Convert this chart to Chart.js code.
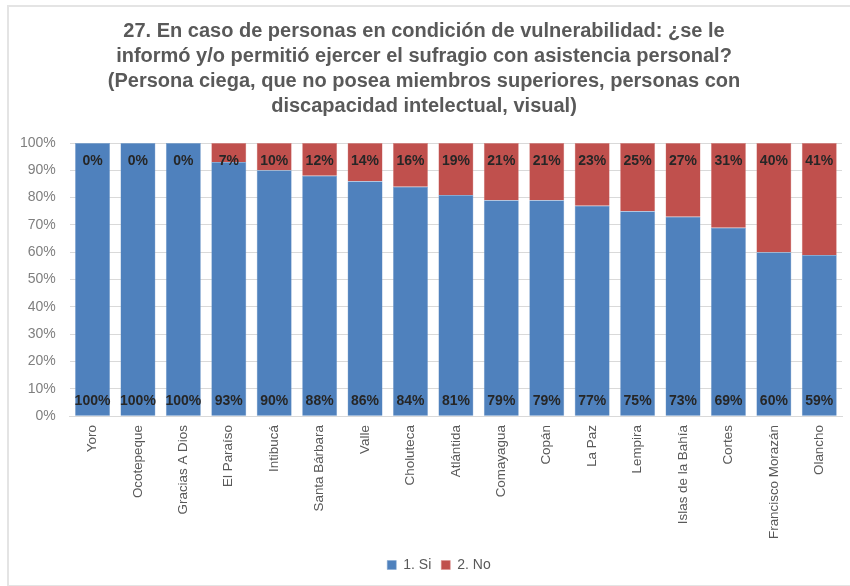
<!DOCTYPE html>
<html>
<head>
<meta charset="utf-8">
<script src="https://cdn.jsdelivr.net/npm/chart.js@4/dist/chart.umd.min.js"></script>
<style>
    html, body { margin: 0; padding: 0; background: #fff; }
    #wrap { position: relative; width: 850px; height: 586px; overflow: hidden; }
    #frame { position: absolute; left: 7px; top: 5px; width: 860px; height: 578px; border: 2px solid #e4e4e4; }
    #chart { position: absolute; left: 0; top: 0; }
</style>
</head>
<body>
<div id="wrap">
    <div id="frame"></div>
    <canvas id="chart" width="850" height="586"></canvas>
</div>
<script>
// Departamentos y porcentajes por respuesta
const departamentos = ['Yoro', 'Ocotepeque', 'Gracias A Dios', 'El Paraíso', 'Intibucá', 'Santa Bárbara',
    'Valle', 'Choluteca', 'Atlántida', 'Comayagua', 'Copán', 'La Paz', 'Lempira', 'Islas de la Bahía',
    'Cortes', 'Francisco Morazán', 'Olancho'];
const respuestaSi = [100, 100, 100, 93, 90, 88, 86, 84, 81, 79, 79, 77, 75, 73, 69, 60, 59];
const respuestaNo = [0, 0, 0, 7, 10, 12, 14, 16, 19, 21, 21, 23, 25, 27, 31, 40, 41];
const yTicks = [0, 10, 20, 30, 40, 50, 60, 70, 80, 90, 100];

const tituloLineas = [
    '27. En caso de personas en condición de vulnerabilidad: ¿se le',
    'informó y/o permitió ejercer el sufragio con asistencia personal?',
    '(Persona ciega, que no posea miembros superiores, personas con',
    'discapacidad intelectual, visual)'
];

// Etiquetas: "Si" abajo de cada barra, "No" arriba
const etiquetasBarras = {
    id: 'etiquetasBarras',
    afterDatasetsDraw(chart) {
        const ctx = chart.ctx;
        const yScale = chart.scales.y;
        ctx.save();
        ctx.font = 'bold 14px "Liberation Sans", Arial, sans-serif';
        ctx.fillStyle = '#262626';
        ctx.textAlign = 'center';
        ctx.textBaseline = 'middle';
        chart.getDatasetMeta(0).data.forEach((bar, i) => {
            ctx.fillText(respuestaSi[i] + '%', bar.x, yScale.getPixelForValue(0) - 15);
        });
        chart.getDatasetMeta(1).data.forEach((bar, i) => {
            ctx.fillText(respuestaNo[i] + '%', bar.x, yScale.getPixelForValue(100) + 18);
        });
        ctx.restore();
    }
};

// corre la leyenda un poco a la derecha
const moverLeyenda = {
    id: 'moverLeyenda',
    afterLayout(chart) {
        chart.legend.left += 15;
        chart.legend.right += 15;
    }
};

const ctx = document.getElementById('chart').getContext('2d');
new Chart(ctx, {
    type: 'bar',
    data: {
        labels: departamentos,
        datasets: [
            {
                label: '1. Si',
                data: respuestaSi,
                backgroundColor: '#4f81bd',
                borderColor: '#7fa3cf',
                borderWidth: 0.5,
                barPercentage: 0.77,
                categoryPercentage: 1
            },
            {
                label: '2. No',
                data: respuestaNo,
                backgroundColor: '#c0504d',
                borderColor: '#d98a88',
                borderWidth: 0.5,
                barPercentage: 0.77,
                categoryPercentage: 1
            }
        ]
    },
    options: {
        responsive: false,
        animation: false,
        layout: { padding: { left: 6, right: 8, top: 0, bottom: 4 } },
        plugins: {
            title: {
                display: true,
                text: tituloLineas,
                color: '#595959',
                font: { family: '"Liberation Sans", Arial, sans-serif', size: 20, weight: 'bold', lineHeight: 1.25 },
                padding: { top: 19, bottom: 24 }
            },
            legend: {
                position: 'bottom',
                labels: {
                    color: '#595959',
                    boxWidth: 9,
                    boxHeight: 9,
                    padding: 10,
                    font: { family: '"Liberation Sans", Arial, sans-serif', size: 14 }
                }
            },
            tooltip: { enabled: false }
        },
        scales: {
            x: {
                stacked: true,
                grid: { display: false, drawTicks: false },
                border: { color: '#d9d9d9' },
                ticks: {
                    color: '#595959',
                    minRotation: 90,
                    maxRotation: 90,
                    padding: 9,
                    font: { family: '"Liberation Sans", Arial, sans-serif', size: 13.4 }
                }
            },
            y: {
                stacked: true,
                min: 0,
                max: 100,
                afterBuildTicks(axis) {
                    axis.ticks = yTicks.map(v => ({ value: v }));
                },
                grid: { color: '#d9d9d9', drawTicks: false },
                border: { display: false },
                ticks: {
                    color: '#7f7f7f',
                    padding: 14,
                    font: { family: '"Liberation Sans", Arial, sans-serif', size: 14 },
                    callback: v => v + '%'
                }
            }
        }
    },
    plugins: [etiquetasBarras, moverLeyenda]
});
</script>
</body>
</html>
